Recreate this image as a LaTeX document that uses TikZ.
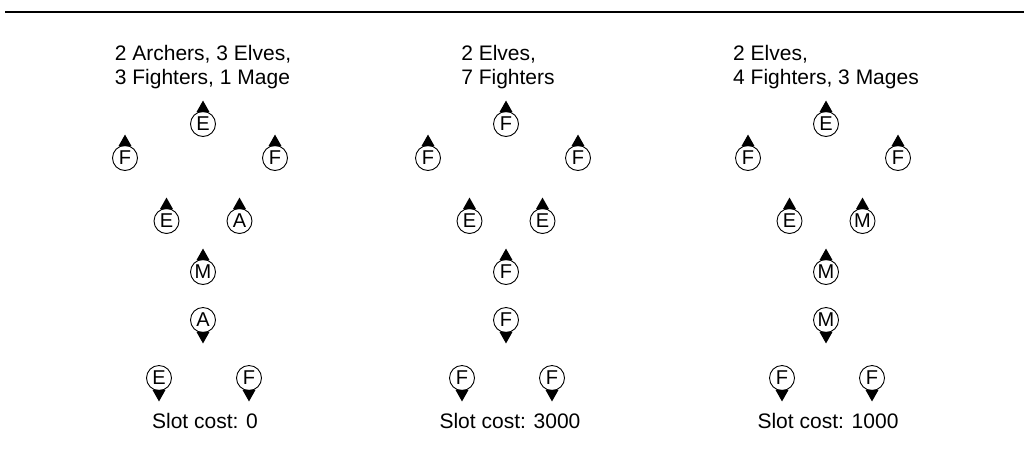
\documentclass[tikz,border=0pt]{standalone}
\usepackage{fontspec}
\setmainfont{Liberation Sans}
\definecolor{ink}{HTML}{000000}
\newcommand{\figfontsize}{\fontsize{21}{24}\selectfont}
\tikzset{
  every picture/.style = {font=\figfontsize, line join=round},
  rule/.style          = {line width=1.5pt},
  header/.style        = {align=left, inner sep=0pt},
  cost/.style          = {anchor=base, inner sep=0pt},
  unit/.style          = {circle, draw=ink, line width=0.9pt, minimum size=25pt,
                          inner sep=0pt, font=\fontsize{20}{20}\selectfont},
  tip/.style           = {fill=ink},
}
% a unit: circled letter, its facing tip on top (up) or at the bottom (dn)
\newcommand{\unitup}[3]{%
  \node[unit] (#1) at (#2) {#3};
  \fill[tip] ([xshift=-6.5pt,yshift=-1pt]#1.north) -- ([xshift=6.5pt,yshift=-1pt]#1.north)
    -- ([yshift=10.5pt]#1.north) -- cycle;}
\newcommand{\unitdn}[3]{%
  \node[unit] (#1) at (#2) {#3};
  \fill[tip] ([xshift=-6.5pt,yshift=1pt]#1.south) -- ([xshift=6.5pt,yshift=1pt]#1.south)
    -- ([yshift=-10.5pt]#1.south) -- cycle;}

\begin{document}
\begin{tikzpicture}[x=1pt, y=-1pt]
  \useasboundingbox (0,0) rectangle (1024,464);
  \coordinate (ruleL) at (5,12);
  \coordinate (ruleR) at (1024,12);
  \draw[rule, ink] (ruleL) -- (ruleR);

  % ---------- left: slot cost 0 ----------------------------------------------
  \def\cx{203}
  \node[header] (hdA) at (\cx,67.5) {2 Archers, 3 Elves,\\3 Fighters, 1 Mage};
  \unitup{a1}{\cx,124}{E}
  \unitup{a2}{{\cx-78},158}{F}
  \unitup{a3}{{\cx+72},158}{F}
  \unitup{a4}{{\cx-36.5},221}{E}
  \unitup{a5}{{\cx+36.5},221}{A}
  \unitup{a6}{\cx,272}{M}
  \unitdn{a7}{\cx,320}{A}
  \unitdn{a8}{{\cx-44},378}{E}
  \unitdn{a9}{{\cx+46},378}{F}
  \node[cost] (csA) at ({\cx+2},428) {Slot cost: 0};

  % ---------- middle: slot cost 3000 -----------------------------------------
  \def\cx{506}
  \node[header] (hdB) at ({\cx+2},67.5) {2 Elves,\\7 Fighters};
  \unitup{b1}{\cx,124}{F}
  \unitup{b2}{{\cx-78},158}{F}
  \unitup{b3}{{\cx+72},158}{F}
  \unitup{b4}{{\cx-36.5},221}{E}
  \unitup{b5}{{\cx+36.5},221}{E}
  \unitup{b6}{\cx,272}{F}
  \unitdn{b7}{\cx,320}{F}
  \unitdn{b8}{{\cx-44},378}{F}
  \unitdn{b9}{{\cx+46},378}{F}
  \node[cost] (csB) at ({\cx+4},428) {Slot cost: 3000};

  % ---------- right: slot cost 1000 ------------------------------------------
  \def\cx{826}
  \node[header] (hdC) at (\cx,67.5) {2 Elves,\\4 Fighters, 3 Mages};
  \unitup{c1}{\cx,124}{E}
  \unitup{c2}{{\cx-78},158}{F}
  \unitup{c3}{{\cx+72},158}{F}
  \unitup{c4}{{\cx-36.5},221}{E}
  \unitup{c5}{{\cx+36.5},221}{M}
  \unitup{c6}{\cx,272}{M}
  \unitdn{c7}{\cx,320}{M}
  \unitdn{c8}{{\cx-44},378}{F}
  \unitdn{c9}{{\cx+46},378}{F}
  \node[cost] (csC) at ({\cx+2},428) {Slot cost: 1000};
\end{tikzpicture}
\end{document}
